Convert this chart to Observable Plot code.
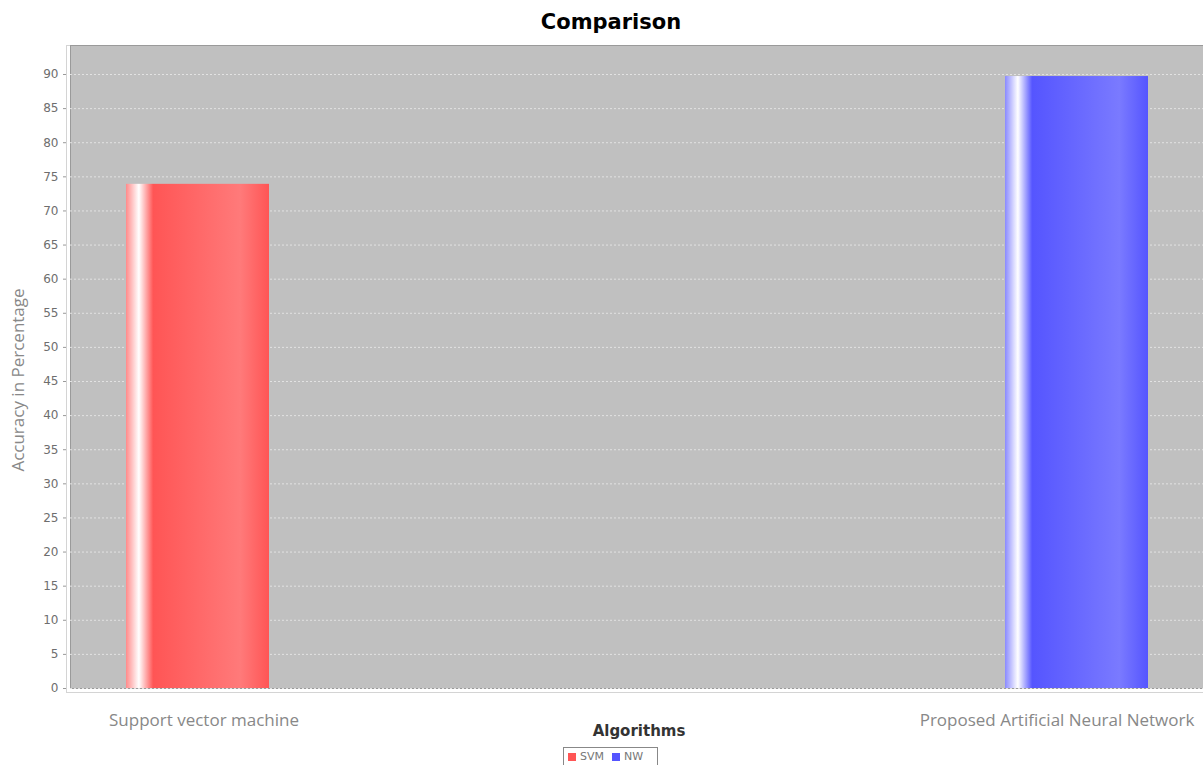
<!DOCTYPE html>
<html>
<head>
<meta charset="utf-8">
<script src="https://cdn.jsdelivr.net/npm/d3@7"></script>
<script src="https://cdn.jsdelivr.net/npm/@observablehq/plot@0.6"></script>
<style>
  body { margin: 0; background: #fff; width: 1203px; height: 765px; overflow: hidden; position: relative; }
  #title { height: 40px; box-sizing: border-box; padding-top: 9px; padding-left: 19px; text-align: center;
           font: bold 21px "DejaVu Sans", sans-serif; color: #000; line-height: 26px; }
  #legend { position: absolute; left: 563px; top: 747px; width: 95px; height: 22px; box-sizing: border-box;
            border: 1px solid #888; font: 11px "DejaVu Sans", sans-serif; color: #777; display: flex; align-items: center;
            padding-left: 4px; padding-bottom: 3px; }
  #legend .sw { width: 8px; height: 8px; display: inline-block; margin-right: 4px; }
  #legend .item { display: inline-flex; align-items: center; margin-right: 8px; }
</style>
</head>
<body>
<svg width="0" height="0" style="position:absolute">
  <defs>
    <linearGradient id="grad-svm" x1="0" x2="1" y1="0" y2="0">
      <stop offset="0" stop-color="#ff8a8a"/>
      <stop offset="0.09" stop-color="#ffffff"/>
      <stop offset="0.19" stop-color="#ff5555"/>
      <stop offset="0.80" stop-color="#ff7a7a"/>
      <stop offset="1" stop-color="#ff5555"/>
    </linearGradient>
    <linearGradient id="grad-nw" x1="0" x2="1" y1="0" y2="0">
      <stop offset="0" stop-color="#8a8aff"/>
      <stop offset="0.09" stop-color="#ffffff"/>
      <stop offset="0.19" stop-color="#5555ff"/>
      <stop offset="0.80" stop-color="#7a7aff"/>
      <stop offset="1" stop-color="#5555ff"/>
    </linearGradient>
  </defs>
</svg>
<div id="title">Comparison</div>
<div id="chart"></div>
<div id="legend">
  <span class="item"><span class="sw" style="background:#ff5555"></span>SVM</span>
  <span class="item"><span class="sw" style="background:#5555ff"></span>NW</span>
</div>
<script>
// ---- data ----
const series = ["SVM", "NW"];
const values = [73.9, 89.7];
const categoryLabels = ["Support vector machine", "Proposed Artificial Neural Network"];
const yTicks = [0, 5, 10, 15, 20, 25, 30, 35, 40, 45, 50, 55, 60, 65, 70, 75, 80, 85, 90];
const yMax = 94.25;
const xTitle = "Algorithms";
const yTitle = "Accuracy in Percentage";

const gradients = {SVM: "url(#grad-svm)", NW: "url(#grad-nw)"};
const data = series.map((s, i) => ({series: s, value: values[i], label: categoryLabels[i]}));

const chart = Plot.plot({
  width: 1203,
  height: 705,
  marginTop: 5,
  marginBottom: 57,
  marginLeft: 70,
  marginRight: 0,
  style: {background: "transparent", overflow: "visible"},
  x: {domain: series, paddingInner: 0.8375, paddingOuter: 0.0625, axis: null},
  y: {domain: [0, yMax], axis: null},
  color: {type: "identity"},
  marks: [
    Plot.frame({stroke: "#d4d4d4", fill: "none", insetLeft: -4, insetBottom: -4}),
    Plot.frame({fill: "#c0c0c0", stroke: "#9a9a9a"}),
    Plot.gridY(yTicks, {stroke: "#e2e2e2", strokeOpacity: 1, strokeDasharray: "2,2"}),
    Plot.axisY(yTicks, {dx: -4, tickSize: 3, tickPadding: 5, fontSize: 12, fontFamily: "DejaVu Sans", color: "#6e6e6e", label: null, stroke: "#999"}),
    Plot.barY(data, {x: "series", y: "value", fill: d => gradients[d.series]}),
    Plot.text(data.filter(d => d.series === "SVM"), {x: "series", text: "label", frameAnchor: "bottom", dy: 37, dx: 6,
      fontSize: 17, fontFamily: "Open Sans", fill: "#888"}),
    Plot.text(data.filter(d => d.series === "NW"), {x: "series", text: "label", frameAnchor: "bottom", dy: 37, dx: -20,
      fontSize: 17, fontFamily: "Open Sans", fill: "#888"}),
    Plot.text([xTitle], {text: d => d, frameAnchor: "bottom", dy: 47, dx: 2, fontSize: 15, fontWeight: "bold",
      fontFamily: "DejaVu Sans", fill: "#333"}),
    Plot.text([yTitle], {text: d => d, frameAnchor: "left", textAnchor: "middle", rotate: -90, dx: -52, dy: 13, fontSize: 17,
      fontFamily: "Open Sans", fill: "#888"})
  ]
});
document.getElementById("chart").appendChild(chart);
</script>
</body>
</html>
